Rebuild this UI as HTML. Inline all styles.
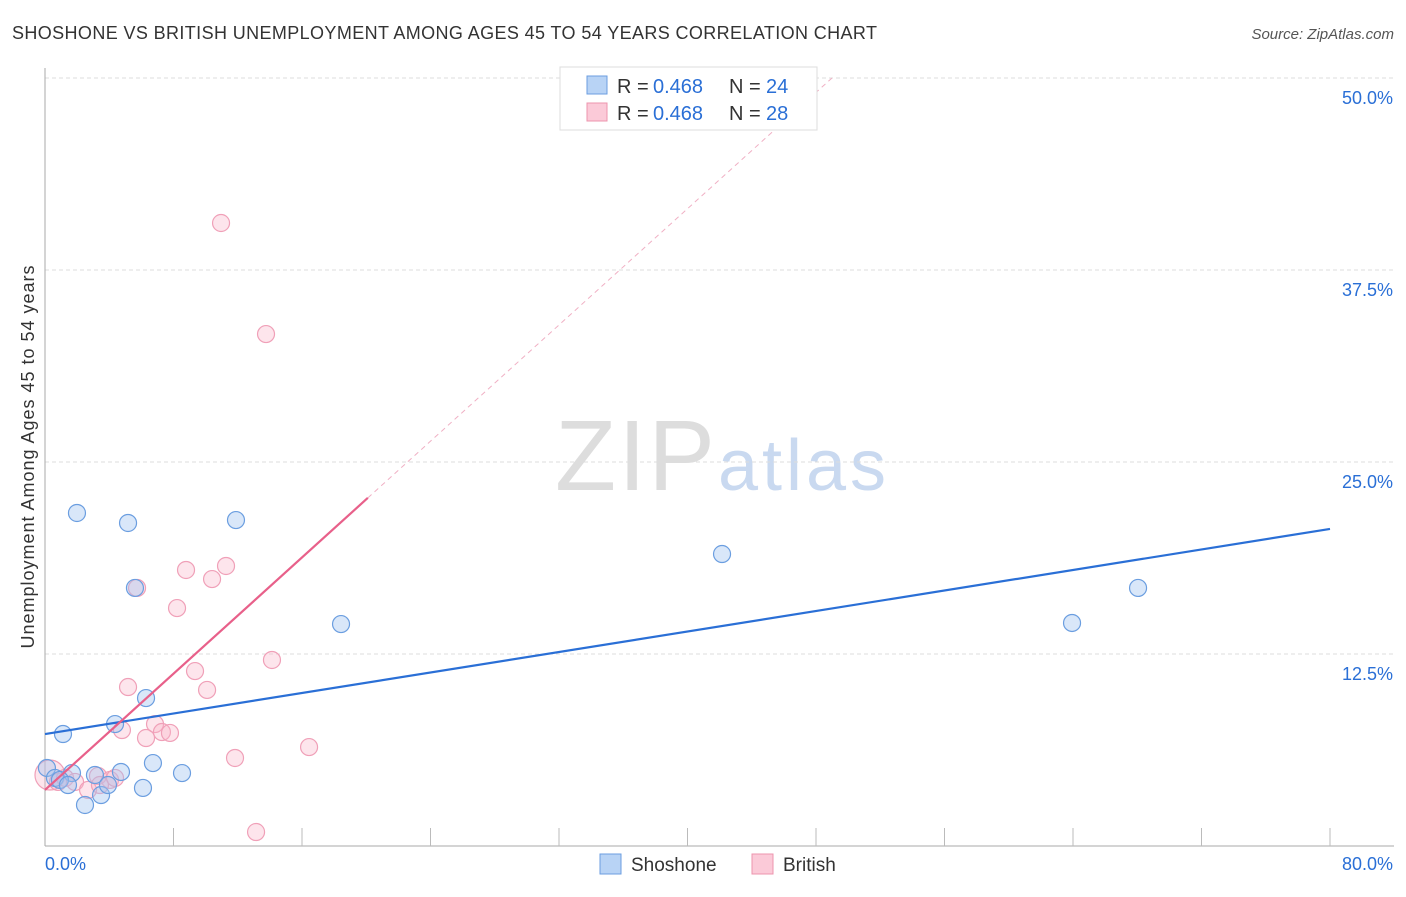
<!DOCTYPE html>
<html><head><meta charset="utf-8"><style>
body{margin:0;background:#fff;font-family:"Liberation Sans",sans-serif}
svg text{font-family:"Liberation Sans",sans-serif}
</style></head><body>
<svg width="1406" height="892">
<text x="12" y="39" font-size="18" textLength="865" fill="#333">SHOSHONE VS BRITISH UNEMPLOYMENT AMONG AGES 45 TO 54 YEARS CORRELATION CHART</text>
<text x="1394" y="39" font-size="15" fill="#555" font-style="italic" text-anchor="end">Source: ZipAtlas.com</text>
<text x="34" y="457" font-size="18" textLength="383" fill="#333" text-anchor="middle" transform="rotate(-90 34 457)">Unemployment Among Ages 45 to 54 years</text>
<text x="555" y="490" font-size="100" textLength="160" fill="#ddd" font-family="Liberation Serif">ZIP</text>
<text x="718" y="490" font-size="72" textLength="168" fill="#c9d9f0">atlas</text>
<g id="grid"></g><g id="axes"></g><g id="pts"></g><g id="lines"></g>
<g>
<rect x="560" y="67" width="257" height="63" fill="#fff" stroke="#ddd"/>
<rect x="587" y="76" width="20" height="18" fill="#b8d3f5" stroke="#6b9ee0"/>
<text x="617" y="93" font-size="20" fill="#333">R = </text><text x="653" y="93" font-size="20" fill="#2a6fd6">0.468</text>
<text x="729" y="93" font-size="20" fill="#333">N = </text><text x="766" y="93" font-size="20" fill="#2a6fd6">24</text>
<rect x="587" y="103" width="20" height="18" fill="#fbcad8" stroke="#ec94ae"/>
<text x="617" y="120" font-size="20" fill="#333">R = </text><text x="653" y="120" font-size="20" fill="#2a6fd6">0.468</text>
<text x="729" y="120" font-size="20" fill="#333">N = </text><text x="766" y="120" font-size="20" fill="#2a6fd6">28</text>
</g>
<g>
<rect x="600" y="854" width="21" height="20" fill="#b8d3f5" stroke="#6b9ee0"/>
<text x="631" y="871" font-size="19" fill="#333">Shoshone</text>
<rect x="752" y="854" width="21" height="20" fill="#fbcad8" stroke="#ec94ae"/>
<text x="783" y="871" font-size="19" fill="#333">British</text>
</g>
</svg>
<script>
const yTicks=[12.5,25,37.5,50];
const yTickLabels=["12.5%","25.0%","37.5%","50.0%"];
const xTickLabels=["0.0%","80.0%"];
const shoX=[0.12,0.62,1.12,1.68,1.99,2.49,3.11,3.49,3.92,4.36,4.73,5.17,5.60,6.10,6.29,6.72,8.53,11.89,18.43,42.15,63.94,68.05,0.93,1.43];
const shoY=[5.08,4.43,7.29,4.75,21.68,2.67,4.62,3.32,3.97,7.94,4.82,21.03,16.80,3.78,9.63,5.40,4.75,21.22,14.45,19.01,14.52,16.80,4.30,3.97];
const briX=[0.31,0.81,1.25,1.87,2.68,3.30,4.05,4.36,4.79,5.17,5.73,6.29,6.85,7.28,7.78,8.22,8.78,9.34,10.09,10.40,10.96,11.27,11.83,13.14,13.76,14.13,16.44,3.42];
const briY=[4.62,4.17,4.43,4.17,3.65,4.56,4.30,4.43,7.55,10.35,16.80,7.03,7.94,7.42,7.36,15.49,17.97,11.39,10.16,17.38,40.56,18.23,5.73,0.91,33.33,12.11,6.44,3.97];
const shoLine=[7.29,20.64];
const briLine=[3.65,0.946];
const NS="http://www.w3.org/2000/svg";
const X=v=>45+v/80*1285, Y=v=>846-v/50*768;
function mk(p,t,a){const e=document.createElementNS(NS,t);for(const k in a)e.setAttribute(k,a[k]);document.getElementById(p).appendChild(e);return e;}
yTicks.forEach((t,i)=>{
 let l=mk('grid','line',{x1:45,x2:1394,y1:Y(t),y2:Y(t),stroke:'#ddd','stroke-dasharray':'4 3'});
 
 
 let tx=mk('grid','text',{x:1393,y:Y(t)+26,'font-size':18,fill:'#2a6fd6','text-anchor':'end'});tx.textContent=yTickLabels[i];
 
 
});
mk('axes','line',{x1:45,x2:45,y1:68,y2:846,stroke:'#aaa'});
mk('axes','line',{x1:45,x2:1394,y1:846,y2:846,stroke:'#aaa'});
for(let i=1;i<=10;i++){let t=mk('axes','line',{x1:X(i*8),x2:X(i*8),y1:828,y2:846,stroke:'#bbb'});
 
 }
let a=mk('axes','text',{x:45,y:870,'font-size':18,fill:'#2a6fd6'});a.textContent=xTickLabels[0];


let b=mk('axes','text',{x:1393,y:870,'font-size':18,fill:'#2a6fd6','text-anchor':'end'});b.textContent=xTickLabels[1];


briX.forEach((x,i)=>{let c=mk('pts','circle',{cx:X(x),cy:Y(briY[i]),r:i==0?15:8.5,fill:'rgba(248,180,200,0.35)',stroke:'#f0a0b8','stroke-width':1.2});
 
 });
shoX.forEach((x,i)=>{let c=mk('pts','circle',{cx:X(x),cy:Y(shoY[i]),r:8.5,fill:'rgba(160,195,240,0.4)',stroke:'#6b9ee0','stroke-width':1.2});
 
 });
let sl=mk('lines','line',{x1:X(0),y1:Y(shoLine[0]),x2:X(80),y2:Y(shoLine[1]),stroke:'#2a6fd6','stroke-width':2.2});


const xe=20.1, xd=(50-briLine[0])/briLine[1];
let bl=mk('lines','line',{x1:X(0),y1:Y(briLine[0]),x2:X(xe),y2:Y(briLine[0]+briLine[1]*xe),stroke:'#e8608a','stroke-width':2.2});


let bd=mk('lines','line',{x1:X(xe),y1:Y(briLine[0]+briLine[1]*xe),x2:X(xd),y2:Y(50),stroke:'#f0b0c4','stroke-width':1,'stroke-dasharray':'5 4'});


</script>
</body></html>
